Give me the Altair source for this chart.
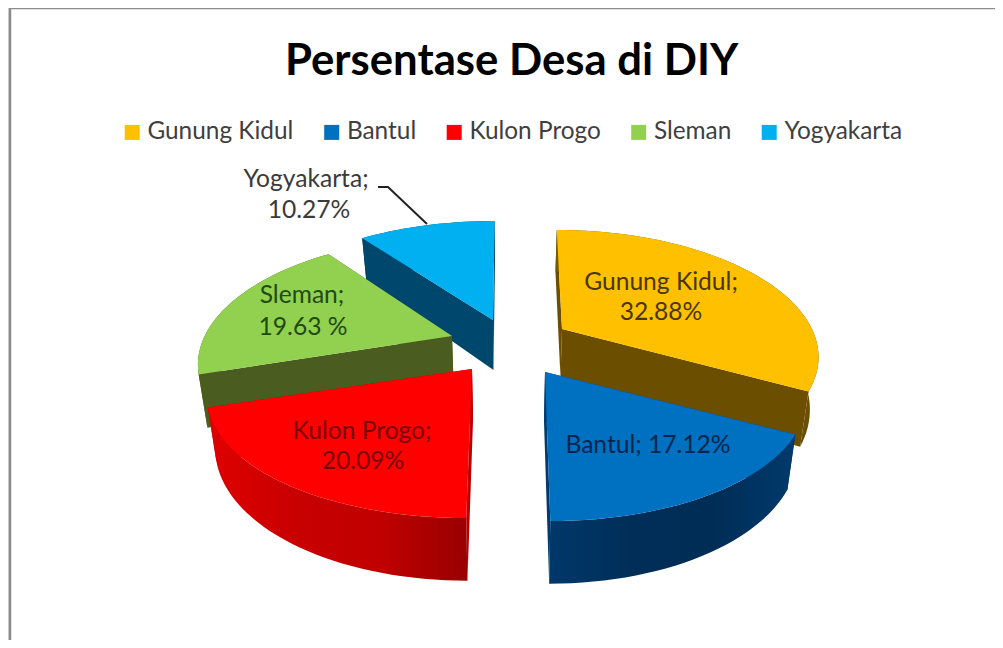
import math
import altair as alt
import pandas as pd

W, H = 987, 632

NAMES = ["Gunung Kidul", "Bantul", "Kulon Progo", "Sleman", "Yogyakarta"]
SHARES = [32.88, 17.12, 20.09, 19.63, 10.27]
TOP_COLORS = ["#FFC000", "#0070C0", "#FF0000", "#92D050", "#00B0F0"]
CUT_COLORS = ["#6B4E00", "#003A6E", "#B80000", "#4A5C1F", "#00476E"]
RIM_STOPS = [
    ["#7A5A00", "#6B4E00"],
    ["#00386A", "#002E58", "#002D56", "#003A6C"],
    ["#E00000", "#C80000", "#C00000", "#980000"],
    ["#4A5C1F", "#4A5C1F"],
    ["#00476E", "#00476E"],
]
# apex of each exploded slice
APEX_X = [562, 545, 472, 452, 493]
APEX_Y = [329, 372, 369, 336, 320]
RADIUS_SCALE = [0.98, 1.0, 1.015, 0.97, 1.0]
DRAW_ORDER = [4, 0, 3, 2, 1]

TITLE = "Persentase Desa di DIY"
LABEL_TEXT = ["Yogyakarta;", "10.27%", "Sleman;", "19.63 %", "Kulon Progo;", "20.09%",
              "Gunung Kidul;", "32.88%", "Bantul; 17.12%"]
LABEL_X = [306, 309, 302, 303, 362, 363, 661, 661, 648]
LABEL_Y = [180, 211, 296, 328, 432, 462, 283, 313, 446]
LABEL_COLOR = ["#3A3A3A", "#3A3A3A", "#1F4A10", "#1F4A10", "#7A0000", "#7A0000",
               "#4A3600", "#4A3600", "#00264F"]
LEADER_X = [378, 388, 427]
LEADER_Y = [187, 187, 224]
FRAME_X = [10, 10, 1003]
FRAME_Y = [648, 8, 8]

RX, RY, PERSP, DEPTH, CX = 255, 119, 0.2016, 50, 510

X = alt.X("x:Q", scale=alt.Scale(domain=[8, 8 + W], nice=False, zero=False), axis=None)
Y = alt.Y("y:Q", scale=alt.Scale(domain=[8 + H, 8], nice=False, zero=False), axis=None)


def project(i, theta, r=1.0, low=False):
    t = math.radians(theta)
    wx, wy = r * math.sin(t), r * math.cos(t)
    s = 1 / (1 + PERSP * wy)
    px = APEX_X[i] + RX * RADIUS_SCALE[i] * wx * s + (APEX_X[i] - CX) * (s - 1) * 0.6
    py = APEX_Y[i] - RY * wy * s
    if low:
        py += DEPTH * s
        px = CX + (px - CX) * 0.972
    return px, py


def poly(points, fill):
    df = pd.DataFrame(points, columns=["x", "y"])
    df["i"] = range(len(df))
    return alt.Chart(df).mark_line(fill=fill, strokeWidth=0, strokeOpacity=0, interpolate="linear").encode(
        x=X, y=Y, order=alt.Order("i:Q")
    )


def gradient(stops):
    n = len(stops) - 1
    return alt.LinearGradient(
        gradient="linear", x1=0, x2=1, y1=0, y2=0,
        stops=[alt.GradientStop(offset=k / n, color=c) for k, c in enumerate(stops)],
    )


starts = []
acc = 0.0
for v in SHARES:
    starts.append(acc)
    acc += v

layers = []
for i in DRAW_ORDER:
    a0 = starts[i] * 3.6
    a1 = (starts[i] + SHARES[i]) * 3.6
    steps = max(4, int((a1 - a0) / 2))
    angles = [a0 + (a1 - a0) * k / steps for k in range(steps + 1)]
    rim_hi = [project(i, a) for a in angles]
    rim_lo = [project(i, a, low=True) for a in angles]
    apex_hi = project(i, 0, r=0)
    apex_lo = project(i, 0, r=0, low=True)
    layers.append(poly([apex_hi, rim_hi[0], rim_lo[0], apex_lo], CUT_COLORS[i]))
    layers.append(poly([apex_hi, rim_hi[-1], rim_lo[-1], apex_lo], CUT_COLORS[i]))
    layers.append(poly(rim_hi + rim_lo[::-1], gradient(RIM_STOPS[i])))
    layers.append(poly([apex_hi] + rim_hi, TOP_COLORS[i]))

frame = alt.Chart(pd.DataFrame({"x": FRAME_X, "y": FRAME_Y, "i": range(3)})).mark_line(
    color="#8C8C8C", strokeWidth=2.5, clip=True
).encode(x=X, y=Y, order=alt.Order("i:Q"))

leader = alt.Chart(pd.DataFrame({"x": LEADER_X, "y": LEADER_Y, "i": range(3)})).mark_line(
    color="#222222", strokeWidth=2
).encode(x=X, y=Y, order=alt.Order("i:Q"))

labels = alt.Chart(pd.DataFrame({"x": LABEL_X, "y": LABEL_Y, "t": LABEL_TEXT, "c": LABEL_COLOR})).mark_text(
    font="Lato", fontSize=24.6, align="center", baseline="middle"
).encode(x=X, y=Y, text="t:N", fill=alt.Fill("c:N", scale=None, legend=None))

legend_src = alt.Chart(pd.DataFrame({"name": NAMES, "share": SHARES})).mark_square(size=0).encode(
    color=alt.Color(
        "name:N",
        scale=alt.Scale(domain=NAMES, range=TOP_COLORS),
        legend=alt.Legend(
            title=None, orient="none", legendX=112, legendY=112, direction="horizontal", columns=5,
            symbolType="square", symbolSize=225, symbolStrokeWidth=0, symbolOpacity=1, columnPadding=25.5,
            labelFont="Lato", labelFontSize=24.4, labelColor="#3F3F3F", labelOffset=3, labelLimit=300,
        ),
    )
)

chart = alt.layer(frame, *layers, leader, labels, legend_src).properties(
    width=W, height=H, padding=0,
    autosize=alt.AutoSizeParams(type="none"),
    title=alt.TitleParams(TITLE, font="Lato", fontSize=43.7, fontWeight="bold", color="#000000",
                          anchor="start", frame="group", dx=277, dy=80),
).configure_view(stroke="transparent", strokeWidth=0).configure(background="#FFFFFF")

chart.save("out.html", embed_options={"renderer": "svg", "actions": False})
